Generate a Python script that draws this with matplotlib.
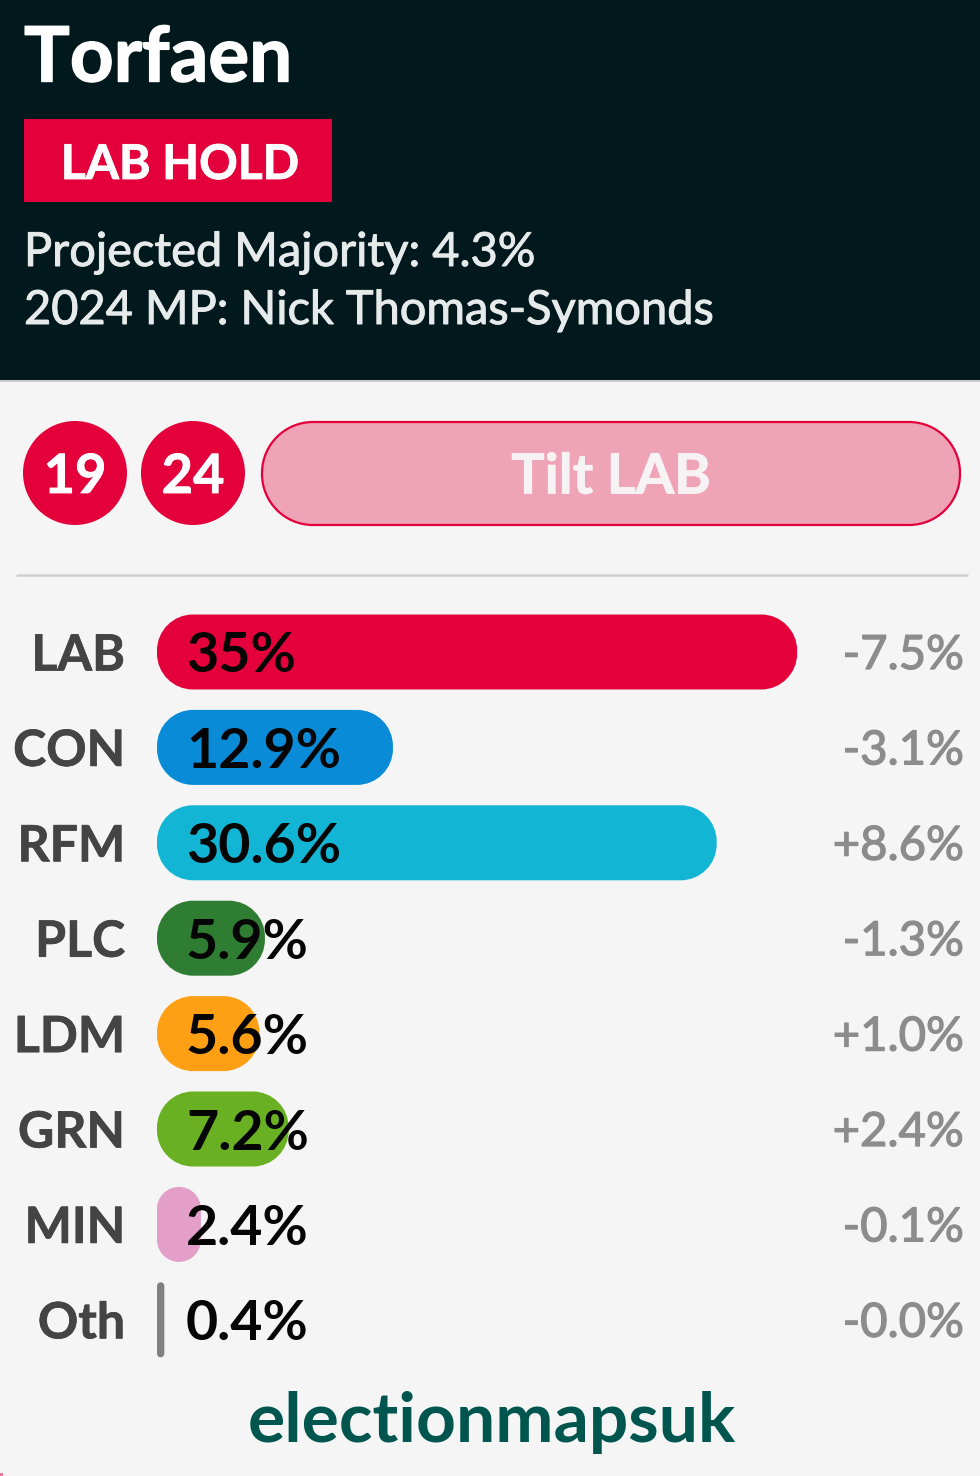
import matplotlib
matplotlib.use("Agg")
import matplotlib.pyplot as plt
import matplotlib.patheffects as pe
from matplotlib.patches import PathPatch, Rectangle, Circle
from matplotlib.path import Path

W, H = 980, 1476
FONT = "Lato"
plt.rcParams["font.family"] = [FONT, "DejaVu Sans"]

constituency = "Torfaen"
result = "LAB HOLD"
info_lines = ["Projected Majority: 4.3%", "2024 MP: Nick Thomas-Symonds"]
rating = "Tilt LAB"
past_years = ["19", "24"]
parties = ["LAB", "CON", "RFM", "PLC", "LDM", "GRN", "MIN", "Oth"]
shares = [35.0, 12.9, 30.6, 5.9, 5.6, 7.2, 2.4, 0.4]
changes = ["-7.5%", "-3.1%", "+8.6%", "-1.3%", "+1.0%", "+2.4%", "-0.1%", "-0.0%"]
colors = ["#e4003b", "#0a8bd8", "#12b6d4", "#2f7d32", "#ffa014", "#6ab023", "#e49fc9", "#808080"]

RED = "#e4003b"


def heavier(color, width=0.7):
    return [pe.withStroke(linewidth=width, foreground=color)]


def rounded(x, y, w, h, rx, ry):
    """Rounded rectangle path with true elliptical corners."""
    k = 0.5523
    kx, ky = rx * (1 - k), ry * (1 - k)
    x1, y1 = x + w, y + h
    verts = [(x + rx, y), (x1 - rx, y),
             (x1 - kx, y), (x1, y + ky), (x1, y + ry),
             (x1, y1 - ry),
             (x1, y1 - ky), (x1 - kx, y1), (x1 - rx, y1),
             (x + rx, y1),
             (x + kx, y1), (x, y1 - ky), (x, y1 - ry),
             (x, y + ry),
             (x, y + ky), (x + kx, y), (x + rx, y),
             (x + rx, y)]
    codes = [Path.MOVETO, Path.LINETO,
             Path.CURVE4, Path.CURVE4, Path.CURVE4,
             Path.LINETO,
             Path.CURVE4, Path.CURVE4, Path.CURVE4,
             Path.LINETO,
             Path.CURVE4, Path.CURVE4, Path.CURVE4,
             Path.LINETO,
             Path.CURVE4, Path.CURVE4, Path.CURVE4,
             Path.CLOSEPOLY]
    return Path(verts, codes)


fig = plt.figure(figsize=(W / 100, H / 100), dpi=100, facecolor="#f5f5f5")

# pixel-space layer
bg = fig.add_axes([0, 0, 1, 1])
bg.set_xlim(0, W)
bg.set_ylim(H, 0)
bg.axis("off")
bg.add_patch(Rectangle((0, 0), W, 380, fc="#01191d", ec="none"))
bg.add_patch(Rectangle((0, 380), W, 2, fc="#c9cccc", ec="none"))
bg.text(24, 53, constituency, color="white", fontsize=55, fontweight="bold",
        va="center_baseline", ha="left", path_effects=heavier("white", 1.0))
bg.add_patch(Rectangle((24, 119), 308, 83, fc=RED, ec="none"))
bg.text(180, 161, result, color="white", fontsize=34.5, fontweight="bold", va="center_baseline", ha="center",
        path_effects=heavier("white", 0.6))
bg.text(24, 249, info_lines[0], color="#e6eaea", fontsize=33.8, va="center_baseline", ha="left",
        path_effects=heavier("#e6eaea"))
bg.text(24, 307, info_lines[1], color="#e6eaea", fontsize=33.8, va="center_baseline", ha="left",
        path_effects=heavier("#e6eaea"))

for cx, yr in zip((75, 193), past_years):
    bg.add_patch(Circle((cx, 473), 52, fc=RED, ec="none"))
    bg.text(cx, 473, yr, color="white", fontsize=39, fontweight="bold", va="center_baseline", ha="center",
            path_effects=heavier("white", 0.6))
bg.add_patch(PathPatch(rounded(262, 422, 698, 103, 51, 51), fc="#efa3b7", ec=RED, lw=1.6))
bg.text(611, 473, rating, color="#f7f3f4", fontsize=40, fontweight="bold", va="center_baseline", ha="center",
        path_effects=heavier("#f7f3f4", 0.6))
bg.plot([16, 968], [574.5, 574.5], color="#cfcfcf", lw=1.8, solid_capstyle="butt")
bg.text(492, 1417, "electionmapsuk", color="#00564f", fontsize=50, fontweight="bold", va="center_baseline", ha="center")
bg.add_patch(Rectangle((0, 1473), 3, 3, fc="#e8789a", ec="none"))

# bars layer: x in percent, y in rows
PX_PER_PCT = 18.29
ROW_PX = 95.4
top_px = 652 - ROW_PX / 2
x_max = (W - 157) / PX_PER_PCT
ax = fig.add_axes([157 / W, 1 - (top_px + ROW_PX * 8) / H, (W - 157) / W, ROW_PX * 8 / H])
ax.set_xlim(0, x_max)
ax.set_ylim(7.5, -0.5)
ax.axis("off")
ax.patch.set_alpha(0)

bar_h = 75 / ROW_PX
px = 0.72  # points per pixel at dpi 100

for i, (p, s, c, d) in enumerate(zip(parties, shares, colors, changes)):
    r_px = min(36, s * PX_PER_PCT / 2)
    ax.add_patch(PathPatch(rounded(0, i - bar_h / 2, s, bar_h, r_px / PX_PER_PCT, r_px / ROW_PX),
                           fc=c, ec="none"))
    ax.annotate(p, xy=(0, i), xytext=(-32 * px, 0), textcoords="offset points",
                ha="right", va="center_baseline", fontsize=36, fontweight="bold", color="#444444",
                path_effects=heavier("#444444", 0.5))
    ax.annotate(f"{s:g}%" if s == 35.0 else f"{s:.1f}%", xy=(0, i), xytext=(29 * px, 0),
                textcoords="offset points", ha="left", va="center_baseline",
                fontsize=40, fontweight="bold", color="#050505")
    ax.annotate(d, xy=(1, i), xycoords=("axes fraction", "data"), xytext=(-16 * px, 0),
                textcoords="offset points", ha="right", va="center_baseline",
                fontsize=34, color="#8c8c8c", path_effects=heavier("#8c8c8c", 0.9))

fig.savefig("out.png", dpi=100, facecolor=fig.get_facecolor())
